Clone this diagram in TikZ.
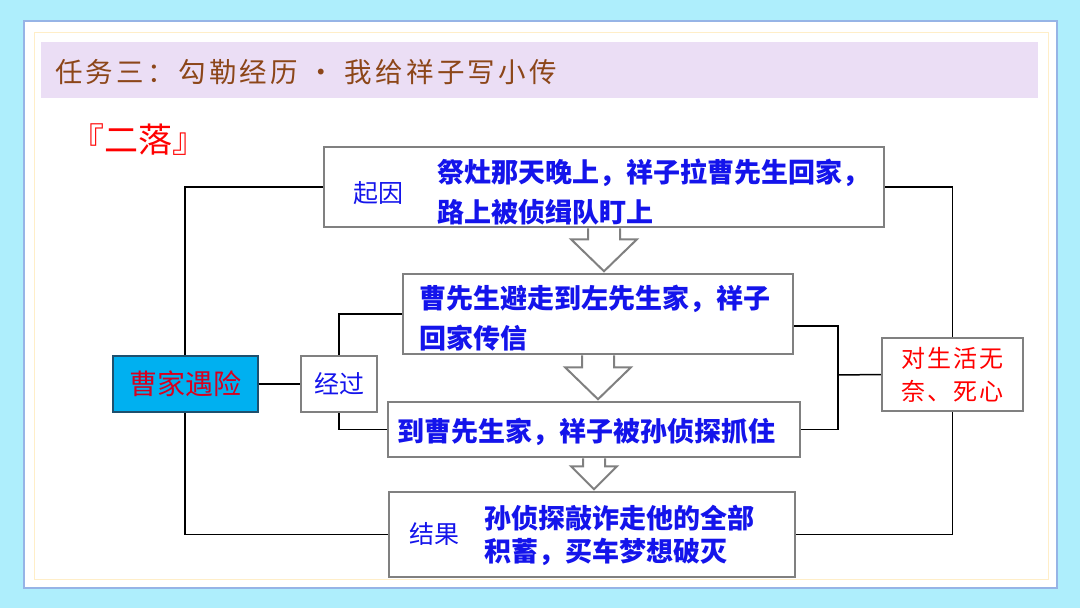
\documentclass[tikz,border=0pt]{standalone}
\usepackage{fontspec}
\setmainfont{Noto Sans CJK SC}
\newfontfamily\titlefont[LetterSpace=12]{Noto Sans CJK SC}
\usetikzlibrary{calc}
\definecolor{bgcyan}{RGB}{174,238,252}
\definecolor{panelblue}{RGB}{150,180,230}
\definecolor{cream}{RGB}{255,238,200}
\definecolor{lav}{RGB}{235,222,245}
\definecolor{titlebrown}{RGB}{140,70,25}
\definecolor{txtblue}{RGB}{20,20,235}
\definecolor{boxgray}{RGB}{128,128,128}
\definecolor{caofill}{RGB}{0,176,240}
\definecolor{caoline}{RGB}{30,80,110}
\definecolor{caored}{RGB}{215,0,30}

\begin{document}
\begin{tikzpicture}[x=1pt, y=-1pt,
    box/.style={draw=boxgray, line width=2.5pt, fill=white, inner sep=0pt},
    hollow/.style={draw=boxgray, line width=2pt, fill=white},
    link/.style={draw=black, line width=1.5pt},
    bluetxt/.style={text=txtblue, font=\fontsize{27}{40}\selectfont\bfseries, align=left, anchor=west, inner sep=0pt},
    tag/.style={text=txtblue, font=\fontsize{25}{30}\selectfont, inner sep=0pt}]
    \useasboundingbox (0,0) rectangle (1080,608);
    \fill[bgcyan] (0,0) rectangle (1080,608);
    \filldraw[fill=white, draw=panelblue, line width=1.5pt] (24,21) rectangle (1057,588);
    \draw[cream, line width=1pt] (34,32) rectangle (1048,579);
    \fill[lav] (41,42) rectangle (1038,98);

    \node[text=titlebrown, anchor=west, inner sep=0pt, font=\fontsize{27.5}{30}\selectfont\titlefont] (title) at (55,72) {任务三：勾勒经历 • 我给祥子写小传};
    \node[text=red, anchor=west, inner sep=0pt, font=\fontsize{34}{38}\selectfont] (erluo) at (70,140) {『二落』};

    \node[box, minimum width=560pt, minimum height=80pt] (qiyin) at (604,187) {};
    \node[box, minimum width=390pt, minimum height=80pt] (bizou) at (598,314) {};
    \node[box, minimum width=412pt, minimum height=55pt] (zhuazhu) at (594,429.5) {};
    \node[box, minimum width=406pt, minimum height=85pt] (jieguo) at (592,534.5) {};
    \node[box, minimum width=76pt, minimum height=56pt, tag] (jingguo) at (339,384) {经过};
    \node[draw=caoline, line width=2pt, fill=caofill, minimum width=145pt, minimum height=56pt, text=caored, font=\fontsize{28}{30}\selectfont] (zjyx) at (185,384) {曹家遇险};
    \node[box, minimum width=141pt, minimum height=73pt, text=red, align=left, font=\fontsize{24}{33}\selectfont\addfontfeatures{LetterSpace=8}] (wunai) at (952.5,374.5) {对生活无\\奈、死心};

    \coordinate (mid) at (838,375);
    \draw[link] (qiyin.west) -| (zjyx.north);
    \draw[link] (zjyx.south) |- (jieguo.west);
    \draw[link] (zjyx.east) -- (jingguo.west);
    \draw[link] (jingguo.north) |- (bizou.west);
    \draw[link] (jingguo.south) |- (zhuazhu.west);
    \draw[link] ([yshift=-12pt]bizou.east) -| (mid) |- (zhuazhu.east);
    \draw[link] (mid) -- (wunai.west);
    \draw[link] (qiyin.east) -| (wunai.north);
    \draw[link] (wunai.south) |- (jieguo.east);

    \draw[hollow] ($(qiyin.south)+(-16,0)$) -- ++(0,11) -- ++(-17,0) -- ($(qiyin.south)+(0,43)$) -- ($(qiyin.south)+(33,11)$) -- ++(-17,0) -- ++(0,-11);
    \draw[hollow] ($(bizou.south)+(-16,0)$) -- ++(0,12) -- ++(-17,0) -- ($(bizou.south)+(0,44)$) -- ($(bizou.south)+(33,12)$) -- ++(-17,0) -- ++(0,-12);
    \draw[hollow] ($(zhuazhu.south)+(-11,0)$) -- ++(0,8) -- ++(-12,0) -- ($(zhuazhu.south)+(0,31)$) -- ($(zhuazhu.south)+(23,8)$) -- ++(-12,0) -- ++(0,-8);

    \node[tag] (qiyintag) at (378,193) {起因};
    \node[tag] (jieguotag) at (434,534) {结果};
    \node[bluetxt] (qiyintxt) at (437,192) {祭灶那天晚上，祥子拉曹先生回家，\\路上被侦缉队盯上};
    \node[bluetxt] (bizoutxt) at (419,318) {曹先生避走到左先生家，祥子\\回家传信};
    \node[bluetxt] (zhuazhutxt) at (397,432) {到曹先生家，祥子被孙侦探抓住};
    \node[bluetxt, font=\fontsize{27}{33}\selectfont\bfseries] (jieguotxt) at (484,535.5) {孙侦探敲诈走他的全部\\积蓄，买车梦想破灭};
\end{tikzpicture}
\end{document}
